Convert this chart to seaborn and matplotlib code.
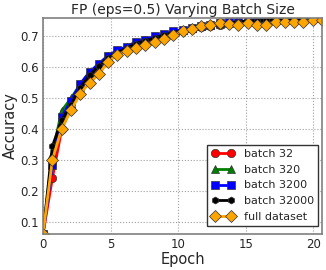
"""FP (eps=0.5) accuracy vs epoch for different batch sizes."""

import matplotlib
matplotlib.use("Agg")
import matplotlib.pyplot as plt
import numpy as np
import pandas as pd
import seaborn as sns

sns.set_style("whitegrid", {"grid.linestyle": ":", "grid.color": "#a0a0a0",
                            "axes.edgecolor": "#808080",
                            "xtick.direction": "in", "ytick.direction": "in"})
plt.rcParams["font.family"] = ["DejaVu Sans"]

# epoch positions (31 evaluation points up to ~20.65 epochs)
epochs = np.linspace(0, 20.65, 31)

acc_batch32 = [0.063, 0.242, 0.400, 0.470, 0.530, 0.570, 0.600, 0.625, 0.645,
               0.660, 0.674, 0.684, 0.693, 0.702, 0.710, 0.717, 0.723, 0.729,
               0.734, 0.738, 0.742, 0.745, 0.748, 0.750, 0.752, 0.754, 0.755,
               0.756, 0.757, 0.758, 0.758]
acc_batch320 = [0.063, 0.320, 0.460, 0.500, 0.545, 0.583, 0.610, 0.636, 0.653,
                0.665, 0.680, 0.688, 0.698, 0.706, 0.714, 0.720, 0.727, 0.732,
                0.737, 0.741, 0.744, 0.747, 0.749, 0.752, 0.753, 0.755, 0.756,
                0.757, 0.758, 0.759, 0.759]
acc_batch3200 = [0.063, 0.285, 0.440, 0.493, 0.547, 0.585, 0.612, 0.638, 0.655,
                 0.667, 0.683, 0.690, 0.700, 0.708, 0.716, 0.722, 0.728, 0.733,
                 0.738, 0.742, 0.745, 0.748, 0.750, 0.753, 0.754, 0.756, 0.757,
                 0.758, 0.759, 0.760, 0.760]
acc_batch32000 = [0.063, 0.345, 0.430, 0.480, 0.535, 0.575, 0.605, 0.630, 0.648,
                  0.662, 0.677, 0.686, 0.695, 0.704, 0.712, 0.719, 0.725, 0.731,
                  0.736, 0.740, 0.744, 0.747, 0.749, 0.751, 0.753, 0.755, 0.756,
                  0.757, 0.758, 0.758, 0.759]
acc_full = [0.063, 0.301, 0.402, 0.462, 0.515, 0.551, 0.578, 0.619, 0.641,
            0.654, 0.663, 0.672, 0.681, 0.692, 0.705, 0.716, 0.724, 0.732,
            0.738, 0.743, 0.741, 0.738, 0.743, 0.736, 0.738, 0.745, 0.745,
            0.748, 0.748, 0.752, 0.754]

SERIES = [
    ("batch 32", acc_batch32, "red", "o", 6),
    ("batch 320", acc_batch320, "green", "^", 6),
    ("batch 3200", acc_batch3200, "blue", "s", 6),
    ("batch 32000", acc_batch32000, "black", "h", 5),
    ("full dataset", acc_full, "orange", "D", 6),
]


def main():
    fig = plt.figure(figsize=(3.26, 2.70), dpi=100)
    ax = fig.add_axes([0.132, 0.134, 0.856, 0.80])

    for label, vals, color, marker, ms in SERIES:
        df = pd.DataFrame({"epoch": epochs, "acc": vals})
        sns.lineplot(data=df, x="epoch", y="acc", ax=ax, color=color,
                     marker=marker, markersize=ms, linewidth=2,
                     markeredgecolor="#333333", markeredgewidth=0.5,
                     label=label)

    ax.set_xlim(0, epochs[-1])
    ax.set_ylim(0.063, 0.760)
    ax.set_xticks([0, 5, 10, 15, 20])
    ax.set_yticks([0.1, 0.2, 0.3, 0.4, 0.5, 0.6, 0.7])
    ax.tick_params(labelsize=8.5, pad=3, length=3, width=0.8, color="#808080")
    ax.set_xlabel("Epoch", fontsize=10.5, labelpad=1)
    ax.set_ylabel("Accuracy", fontsize=10.5, labelpad=2)
    ax.set_title("FP (eps=0.5) Varying Batch Size", fontsize=10, pad=3)
    ax.legend(loc="lower right", bbox_to_anchor=(0.986, 0.036),
              borderaxespad=0, fontsize=8, numpoints=2, frameon=True,
              fancybox=False, edgecolor="#333333", framealpha=1,
              handlelength=2.1)
    for s in ax.spines.values():
        s.set_linewidth(1.2)

    fig.savefig("out.png", dpi=100)
    plt.close(fig)


if __name__ == "__main__":
    main()
